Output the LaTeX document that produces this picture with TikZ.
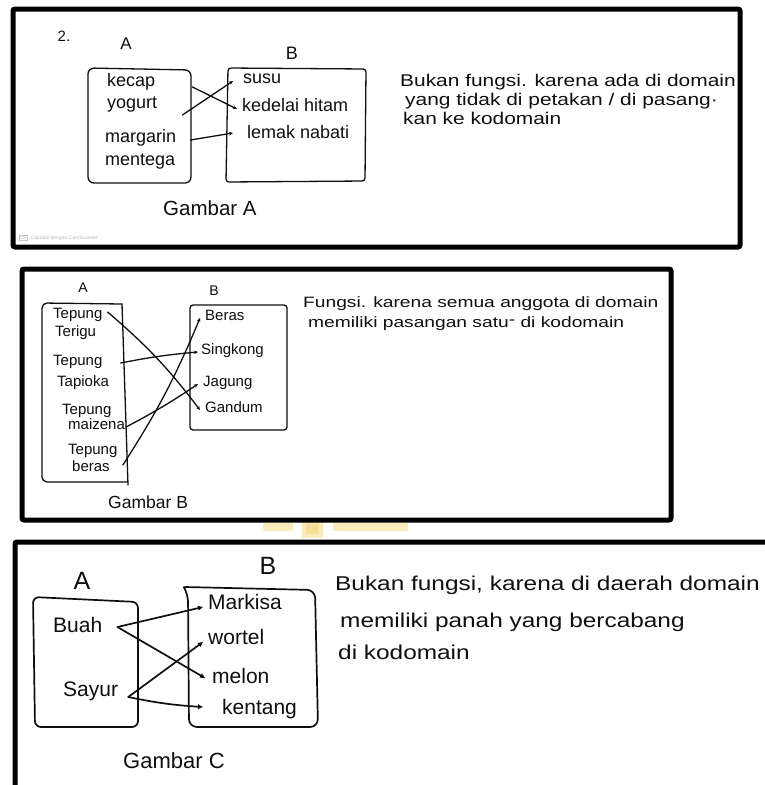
\documentclass[tikz,border=0pt]{standalone}
\usepackage{fontspec}
\setmainfont{Liberation Sans}
\usetikzlibrary{arrows.meta}
% stretch a piece of text horizontally only
\newcommand{\hstretch}[2]{\scalebox{#1}[1]{#2}}
\definecolor{inkc}{gray}{0.06}
\definecolor{stamp}{RGB}{250,234,188}
\definecolor{stampcore}{RGB}{247,222,150}
\begin{document}
\begin{tikzpicture}[x=1pt,y=-1pt,
  frame/.style={line width=5pt, rounded corners=2pt, draw=black},
  ink/.style={line width=1.3pt, line cap=round, line join=round, draw=inkc},
  inkthick/.style={line width=1.7pt, line cap=round, line join=round, draw=inkc},
  txt/.style={inner sep=1pt, anchor=mid west, text=inkc},
  lab/.style={inner sep=0pt, anchor=center, text=inkc},
  fone/.style={font=\fontsize{18}{20}\selectfont},
  ftwo/.style={font=\fontsize{15}{17}\selectfont},
  fthree/.style={font=\fontsize{21}{23}\selectfont},
  linkA/.style={ink, -{Stealth[length=4pt,width=3.6pt]}},
  linkC/.style={inkthick, -{Triangle[length=5pt,width=4.5pt]}},
]
\useasboundingbox (0,0) rectangle (765,785);
\clip (0,0) rectangle (765,785);
\fill[white] (0,0) rectangle (765,785);

% ---------------- Gambar A ----------------
\node[lab, font=\fontsize{15}{17}\selectfont] (num) at (64,36) {2.};
\node[lab, font=\fontsize{17}{19}\selectfont] (setA1) at (126,44) {A};
\node[lab, font=\fontsize{18}{20}\selectfont] (setB1) at (292,53) {B};

\draw[ink, rounded corners=6pt] (191,70) -- (88,68) -- (88,183) -- (191,183) -- cycle;
\draw[ink, rounded corners=3pt] (228,68) -- (366,69) -- (365,181) -- (226,182) -- cycle;

\node[txt,fone] (kecap) at (106,84) {kecap};
\node[txt,fone] (yogurt) at (106,106) {yogurt};
\node[txt,fone] (margarin) at (104,140) {margarin};
\node[txt,fone] (mentega) at (104,163) {mentega};
\node[txt,fone] (susu) at (242,81) {susu};
\node[txt,fone] (kedelai) at (241,109) {kedelai hitam};
\node[txt,fone] (lemak) at (246,136) {lemak nabati};

\draw[linkA] ([xshift=36pt,yshift=-3pt]kecap.mid east) -- ([xshift=-4pt]kedelai.mid west);
\draw[linkA] ([xshift=24pt,yshift=-9pt]yogurt.mid east) -- ([xshift=-9pt]susu.mid west);
\draw[linkA] ([xshift=13pt]margarin.mid east) -- ([xshift=-13pt,yshift=3pt]lemak.mid west);

\node[txt, font=\fontsize{20.5}{22}\selectfont] (capA) at (162,213) {Gambar A};

\node[txt, font=\fontsize{17}{19}\selectfont] (noteA1) at (399,84) {\hstretch{1.23}{Bukan fungsi. karena ada di domain}};
\node[txt, font=\fontsize{17}{19}\selectfont] (noteA2) at (404,103) {\hstretch{1.23}{yang tidak di petakan / di pasang·}};
\node[txt, font=\fontsize{17}{19}\selectfont] (noteA3) at (402,122) {\hstretch{1.23}{kan ke kodomain}};

\node[draw=gray!45, line width=0.4pt, inner sep=0.8pt, text=gray!60, font=\fontsize{5}{5}\selectfont] (cs) at (23,238) {CS};
\node[anchor=west, inner sep=0pt, text=gray!55, font=\fontsize{5}{6}\selectfont] (scan) at (31,238) {Dipindai dengan CamScanner};

% ---------------- Gambar B ----------------
\node[lab, font=\fontsize{14}{16}\selectfont] (setA2) at (83,288) {A};
\node[lab, font=\fontsize{14}{16}\selectfont] (setB2) at (214,291) {B};

\draw[ink, rounded corners=5pt] (122,304) -- (42,303) -- (42,482) -- (127,482);
\draw[ink] (122,304) -- (128,485);
\draw[ink, rounded corners=3pt] (190,305) -- (287,305) -- (287,430) -- (190,430) -- cycle;

\node[txt,ftwo] (tep1) at (52,316) {Tepung};
\node[txt,ftwo] (terigu) at (54,334) {Terigu};
\node[txt,ftwo] (tep2) at (52,363) {Tepung};
\node[txt,ftwo] (tapioka) at (56,384) {Tapioka};
\node[txt,ftwo] (tep3) at (61,412) {Tepung};
\node[txt,ftwo] (maizena) at (67,427) {maizena};
\node[txt,ftwo] (tep4) at (67,452) {Tepung};
\node[txt,ftwo] (beras) at (71,469) {beras};

\node[txt,ftwo] (Beras) at (204,318) {Beras};
\node[txt,ftwo] (singkong) at (200,352) {Singkong};
\node[txt,ftwo] (jagung) at (202,384) {Jagung};
\node[txt,ftwo] (gandum) at (204,410) {Gandum};

\draw[linkA] ([xshift=4pt,yshift=4pt]tep1.mid east) to[bend left=6] ([xshift=-4pt]gandum.mid west);
\draw[linkA] ([xshift=17pt]tep2.mid east) to[bend left=3] ([xshift=-2pt]singkong.mid west);
\draw[linkA] (maizena.mid east) to[bend right=3] ([xshift=-4pt]jagung.mid west);
\draw[linkA] ([xshift=12pt,yshift=4pt]beras.mid east) to[bend right=5] ([xshift=-4pt]Beras.mid west);

\node[txt, font=\fontsize{17.5}{19}\selectfont] (capB) at (107,506) {Gambar B};

\node[txt, font=\fontsize{15}{17}\selectfont] (noteB1) at (302,305) {\hstretch{1.28}{Fungsi. karena semua anggota di domain}};
\node[txt, font=\fontsize{15}{17}\selectfont] (noteB2) at (307,325) {\hstretch{1.28}{memiliki pasangan satu\raisebox{0.35ex}{-} di kodomain}};

% ---------------- Gambar C ----------------
\node[lab, font=\fontsize{25}{27}\selectfont] (setA3) at (82,581) {A};
\node[lab, font=\fontsize{25}{27}\selectfont] (setB3) at (268,566) {B};

\draw[inkthick, rounded corners=6pt] (138,602) -- (33,597) -- (35,727) -- (138,727) -- cycle;
\draw[inkthick, rounded corners=8pt] (185,587) -- (315,590) -- (318,727) -- (189,727) -- (188,594) -- (185,589);

\node[txt,fthree] (buah) at (52,630) {Buah};
\node[txt,fthree] (sayur) at (62,694) {Sayur};
\node[txt,fthree] (markisa) at (207,607) {Markisa};
\node[txt,fthree] (wortel) at (207,642) {wortel};
\node[txt,fthree] (melon) at (211,681) {melon};
\node[txt,fthree] (kentang) at (221,712) {kentang};

\draw[linkC] ([xshift=14pt,yshift=3pt]buah.mid east) -- ([xshift=-4pt]markisa.mid west);
\draw[linkC] ([xshift=14pt,yshift=3pt]buah.mid east) -- ([xshift=-6pt,yshift=3pt]melon.mid west);
\draw[linkC] ([xshift=9pt,yshift=-3pt]sayur.mid east) -- ([xshift=-4pt]wortel.mid west);
\draw[linkC] ([xshift=9pt,yshift=-3pt]sayur.mid east) to[bend right=4] ([xshift=-18pt,yshift=5pt]kentang.mid west);

\node[txt, font=\fontsize{22}{24}\selectfont] (capC) at (122,766) {Gambar C};

\node[txt, font=\fontsize{20}{22}\selectfont] (noteC1) at (334,588) {\hstretch{1.22}{Bukan fungsi, karena di daerah domain}};
\node[txt, font=\fontsize{20}{22}\selectfont] (noteC2) at (339,625) {\hstretch{1.22}{memiliki panah yang bercabang}};
\node[txt, font=\fontsize{20}{22}\selectfont] (noteC3) at (337,657) {\hstretch{1.22}{di kodomain}};

% faint stamp marks between the panels
\fill[stamp] (263,523) rectangle (293,531);
\fill[stamp] (302,522) rectangle (323,538);
\fill[stamp] (333,523) rectangle (408,531);
\fill[stampcore] (306,524) rectangle (319,534);

% ---------------- panel frames ----------------
\draw[frame] (13,9) rectangle (740,247);
\draw[frame] (22,269) rectangle (671,520);
\draw[frame] (780,542) -- (15,542) -- (15,800);
\end{tikzpicture}
\end{document}
